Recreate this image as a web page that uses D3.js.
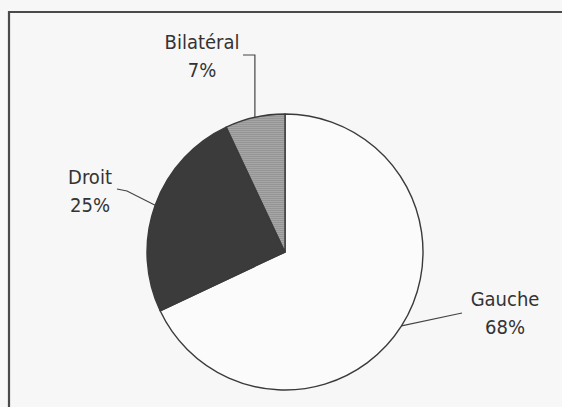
<!DOCTYPE html>
<html><head><meta charset="utf-8">
<script src="https://cdn.jsdelivr.net/npm/d3@7"></script>
<style>html,body{margin:0;padding:0;background:#f7f7f7;}svg{display:block;}</style>
</head><body>
<svg id="c" width="562" height="407"></svg>
<script>
const categories = ["Gauche", "Droit", "Bilatéral"];
const values = [68, 25, 7];
const labelTexts = values.map(v => v + "%");

const W = 562, H = 407;
const cx = 285, cy = 252, R = 138;
const fills = ["#fbfbfb", "#3b3b3b", "url(#hatch)"];
const labelPos = [ {x: 505, y: 306}, {x: 90, y: 184}, {x: 202, y: 49} ];
const lineGap = 28;

const svg = d3.select("#c");
const defs = svg.append("defs");
const pat = defs.append("pattern").attr("id","hatch").attr("patternUnits","userSpaceOnUse")
  .attr("width",4).attr("height",2);
pat.append("rect").attr("width",4).attr("height",2).attr("fill","#a6a6a6");
pat.append("rect").attr("width",4).attr("height",1).attr("fill","#959595");

svg.append("rect").attr("width",W).attr("height",H).attr("fill","#f7f7f7");
// frame
svg.append("path").attr("d",`M9,${H+5}V12H${W+5}`).attr("fill","none")
  .attr("stroke","#4a4a4a").attr("stroke-width",2.2);

const pie = d3.pie().sort(null).value(d => d)(values);
const arc = d3.arc().innerRadius(0).outerRadius(R);

const g = svg.append("g").attr("transform",`translate(${cx},${cy})`);
g.selectAll("path.slice").data(pie).join("path").attr("class","slice")
  .attr("d", arc).attr("fill",(d,i)=>fills[i])
  .attr("stroke","#3a3a3a").attr("stroke-width",1.4).attr("stroke-linejoin","round");

// leader lines
const lead = svg.append("g").attr("fill","none").attr("stroke","#444").attr("stroke-width",1.2);
pie.forEach((d,i) => {
  const a = (d.startAngle + d.endAngle)/2;
  const px = cx + R*Math.sin(a), py = cy - R*Math.cos(a);
  let pts;
  if (i === 0) pts = [[px,py],[462,313]];
  else if (i === 1) pts = [[117,189],[127,191],[px,py]];
  else pts = [[243,55],[px,55],[px,py]];
  lead.append("path").attr("d", d3.line()(pts));
});

// labels
const lab = svg.append("g").attr("font-family","'DejaVu Sans Condensed','DejaVu Sans',sans-serif")
  .attr("font-size",20).attr("fill","#333").attr("text-anchor","middle");
categories.forEach((c,i) => {
  const t = lab.append("text").attr("x",labelPos[i].x).attr("y",labelPos[i].y);
  t.append("tspan").attr("x",labelPos[i].x).text(c);
  t.append("tspan").attr("x",labelPos[i].x).attr("dy",lineGap).text(labelTexts[i]);
});
</script>
</body></html>
